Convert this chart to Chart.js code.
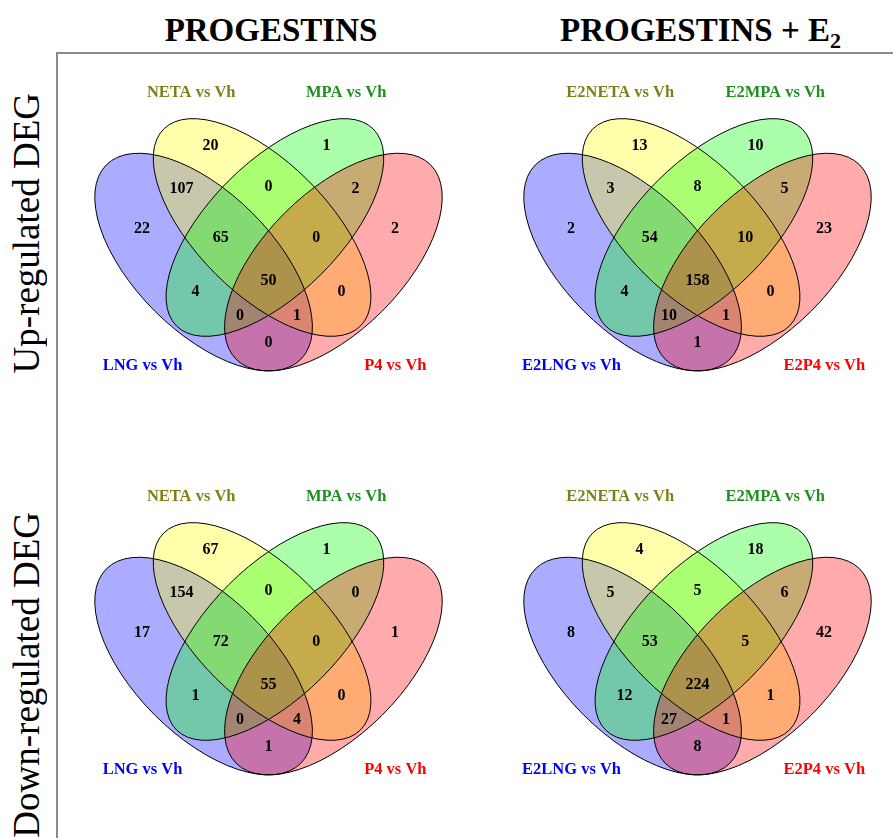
<!DOCTYPE html>
<html>
<head>
<meta charset="utf-8">
<script src="https://cdn.jsdelivr.net/npm/chart.js@4.4.1/dist/chart.umd.min.js"></script>
<style>
html, body { margin: 0; padding: 0; background: #fff; width: 893px; height: 838px; overflow: hidden; }
.title { position: absolute; font-family: "Liberation Serif", serif; font-weight: bold; font-size: 33px; line-height: 33px; color: #000; white-space: nowrap; }
.title sub { font-size: 22px; vertical-align: -7px; line-height: 0; }
.rowlab { position: absolute; font-family: "Liberation Serif", serif; font-size: 37px; line-height: 37px; color: #000; white-space: nowrap; writing-mode: vertical-rl; transform: rotate(180deg); }
.frame { position: absolute; background: #8a8a8a; }
canvas { position: absolute; }
</style>
</head>
<body>
<div class="title" style="left:71px;top:14px;width:400px;text-align:center;">PROGESTINS</div>
<div class="title" style="left:560px;top:14px;">PROGESTINS + E<sub>2</sub></div>
<div class="rowlab" style="left:8px;top:93px;">Up-regulated DEG</div>
<div class="rowlab" style="left:8px;top:512px;">Down-regulated DEG</div>
<div class="frame" style="left:57px;top:52px;width:836px;height:2px;"></div>
<div class="frame" style="left:56px;top:52px;width:2px;height:786px;"></div>
<canvas id="vennUpProg" width="430" height="400"></canvas>
<canvas id="vennUpE2" width="430" height="400"></canvas>
<canvas id="vennDownProg" width="430" height="400"></canvas>
<canvas id="vennDownE2" width="430" height="400"></canvas>
<script>
// set names (A = LNG, B = NETA, C = MPA, D = P4)
const setNamesProg = ['LNG vs Vh', 'NETA vs Vh', 'MPA vs Vh', 'P4 vs Vh'];
const setNamesE2 = ['E2LNG vs Vh', 'E2NETA vs Vh', 'E2MPA vs Vh', 'E2P4 vs Vh'];

// regions, same order in every count array
const regions = ['B', 'C', 'AB', 'BC', 'CD', 'A', 'ABC', 'BCD', 'D', 'AC', 'ABCD', 'BD', 'ACD', 'ABD', 'AD'];

// gene counts per region
const upProg = [20, 1, 107, 0, 2, 22, 65, 0, 2, 4, 50, 0, 0, 1, 0];
const upE2 = [13, 10, 3, 8, 5, 2, 54, 10, 23, 4, 158, 0, 10, 1, 1];
const downProg = [67, 1, 154, 0, 0, 17, 72, 0, 1, 1, 55, 0, 0, 4, 1];
const downE2 = [4, 18, 5, 5, 6, 8, 53, 5, 42, 12, 224, 1, 27, 1, 8];

// venn layout in unit coords (same for the 4 panels)
const regionX = [0.364, 0.636, 0.296, 0.5, 0.704, 0.204, 0.388, 0.612, 0.796, 0.329, 0.5, 0.671, 0.433, 0.567, 0.5];
const regionY = [0.774, 0.774, 0.672, 0.678, 0.672, 0.579, 0.558, 0.558, 0.579, 0.432, 0.456, 0.432, 0.374, 0.374, 0.312];
const catX = [0.205, 0.319, 0.682, 0.797];
const catY = [0.259, 0.897, 0.897, 0.259];
const ellipses = [
    { x: 0.348, y: 0.501, a: 0.322, b: 0.162, rot: 135 },
    { x: 0.485, y: 0.582, a: 0.326, b: 0.154, rot: 135 },
    { x: 0.515, y: 0.582, a: 0.326, b: 0.154, rot: 45 },
    { x: 0.652, y: 0.501, a: 0.322, b: 0.162, rot: 45 }
];
const fills = ['rgba(0,0,255,0.33)', 'rgba(255,255,0,0.33)', 'rgba(0,255,0,0.33)', 'rgba(255,0,0,0.33)'];
const catColors = ['#0000ff', '#80801a', '#1f8f1f', '#ff0000'];

// page placement
const S = 427;                 // px per unit
const colX0 = [54.5, 484];     // px of x = 0
const rowY0 = [476.4, 880.4];  // px of y = 0

const vennPlugin = {
    id: 'venn',
    beforeDatasetsDraw(chart) {
        const ctx = chart.ctx;
        const xs = chart.scales.x, ys = chart.scales.y;
        const k = xs.getPixelForValue(1) - xs.getPixelForValue(0);
        const path = (e) => {
            ctx.beginPath();
            ctx.ellipse(xs.getPixelForValue(e.x), ys.getPixelForValue(e.y), e.a * k, e.b * k, -e.rot * Math.PI / 180, 0, Math.PI * 2);
        };
        ctx.save();
        ellipses.forEach((e, i) => {
            path(e);
            ctx.fillStyle = fills[i];
            ctx.fill();
        });
        ctx.strokeStyle = '#000';
        ctx.lineWidth = 1;
        ellipses.forEach(e => { path(e); ctx.stroke(); });
        ctx.restore();
    },
    afterDatasetsDraw(chart) {
        const ctx = chart.ctx;
        const xs = chart.scales.x, ys = chart.scales.y;
        const meta = chart.getDatasetMeta(0);
        const pts = chart.data.datasets[0].data;
        ctx.save();
        ctx.textAlign = 'center';
        ctx.textBaseline = 'middle';
        ctx.font = 'bold 16px "Liberation Serif"';
        ctx.fillStyle = '#000';
        meta.data.forEach((pt, i) => {
            ctx.fillText(String(pts[i].n), pt.x, pt.y);
        });
        const names = chart.options.plugins.venn.names;
        ctx.font = 'bold 16.5px "Liberation Serif"';
        names.forEach((nm, i) => {
            ctx.fillStyle = catColors[i];
            ctx.fillText(nm, xs.getPixelForValue(catX[i]), ys.getPixelForValue(catY[i]));
        });
        ctx.restore();
    }
};

function makeVenn(id, col, row, counts, names) {
    const cv = document.getElementById(id);
    const L = colX0[col] - 20, T = rowY0[row] - 430;
    cv.style.left = L + 'px';
    cv.style.top = T + 'px';
    const W = cv.width, H = cv.height;
    new Chart(cv, {
        type: 'scatter',
        data: {
            datasets: [{
                data: counts.map((n, i) => ({ x: regionX[i], y: regionY[i], n: n, region: regions[i] })),
                pointRadius: 0,
                pointHoverRadius: 0
            }]
        },
        options: {
            responsive: false,
            animation: false,
            events: [],
            layout: { padding: 0 },
            plugins: { legend: { display: false }, tooltip: { enabled: false }, venn: { names: names } },
            scales: {
                x: { type: 'linear', display: false, min: (L - colX0[col]) / S, max: (L + W - colX0[col]) / S },
                y: { type: 'linear', display: false, min: (rowY0[row] - T - H) / S, max: (rowY0[row] - T) / S }
            }
        },
        plugins: [vennPlugin]
    });
}

makeVenn('vennUpProg', 0, 0, upProg, setNamesProg);
makeVenn('vennUpE2', 1, 0, upE2, setNamesE2);
makeVenn('vennDownProg', 0, 1, downProg, setNamesProg);
makeVenn('vennDownE2', 1, 1, downE2, setNamesE2);
</script>
</body>
</html>
